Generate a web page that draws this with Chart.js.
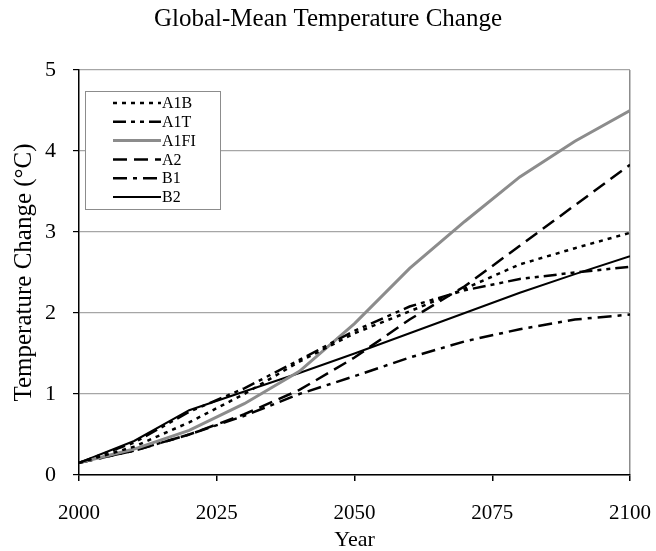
<!DOCTYPE html>
<html>
<head>
<meta charset="utf-8">
<script src="https://cdn.jsdelivr.net/npm/chart.js@4/dist/chart.umd.min.js"></script>
<style>
html,body{margin:0;padding:0;background:#fff;}
#wrap{width:656px;height:551px;}
</style>
</head>
<body>
<div id="wrap"><canvas id="tempChart" width="656" height="551"></canvas></div>
<script>
const years = [2000,2010,2020,2030,2040,2050,2060,2070,2080,2090,2100];
const xTicks = [2000,2025,2050,2075,2100];
const yTicks = [0,1,2,3,4,5];

const a1b  = [0.15,0.35,0.65,1.00,1.40,1.75,2.02,2.30,2.60,2.80,2.99];
const a1t  = [0.15,0.40,0.78,1.07,1.42,1.78,2.08,2.28,2.42,2.50,2.57];
const a1fi = [0.15,0.32,0.55,0.88,1.28,1.87,2.55,3.13,3.68,4.12,4.50];
const a2   = [0.15,0.30,0.50,0.75,1.05,1.45,1.92,2.33,2.83,3.33,3.83];
const b1   = [0.15,0.30,0.50,0.73,1.00,1.22,1.45,1.65,1.80,1.92,1.98];
const b2   = [0.15,0.42,0.80,1.03,1.26,1.50,1.75,2.00,2.25,2.48,2.70];

const seriesNames = ["A1B","A1T","A1FI","A2","B1","B2"];
const seriesData = [a1b,a1t,a1fi,a2,b1,b2];
const seriesColor = ["#000","#000","#8c8c8c","#000","#000","#000"];
const seriesWidth = [2.5,2.5,3,2.5,2.5,2];
const seriesDash = [[4,5],[13,5,4,5,4,5],[],[14,7],[14,6,4,6],[]];

const serif = "'Liberation Serif','Times New Roman',serif";

const datasets = seriesNames.map((name,i)=>({
label:name,
data:years.map((y,j)=>({x:y,y:seriesData[i][j]})),
borderColor:seriesColor[i],
borderWidth:seriesWidth[i],
borderDash:seriesDash[i],
pointRadius:0,
tension:0,
fill:false
}));

/* legend box drawn inside the plot area */
const boxLegend = {
id:"boxLegend",
afterDatasetsDraw(chart){
const ctx = chart.ctx;
const area = chart.chartArea;
const left = area.left+6, top = area.top+21;
ctx.save();
ctx.strokeStyle = "#8c8c8c";
ctx.lineWidth = 1;
ctx.fillStyle = "#fff";
ctx.fillRect(left,top,135,118);
ctx.strokeRect(left+0.5,top+0.5,135,118);
ctx.font = "16px "+serif;
ctx.textBaseline = "middle";
seriesNames.forEach((name,i)=>{
const y = top+12+i*18.8;
ctx.beginPath();
ctx.setLineDash(seriesDash[i]);
ctx.strokeStyle = seriesColor[i];
ctx.lineWidth = seriesWidth[i];
ctx.moveTo(left+28,y);
ctx.lineTo(left+76,y);
ctx.stroke();
ctx.setLineDash([]);
ctx.fillStyle = "#000";
ctx.fillText(name,left+77,y+1);
});
ctx.restore();
}
};

new Chart(document.getElementById("tempChart"),{
type:"line",
data:{datasets},
options:{
responsive:false,
animation:false,
layout:{padding:0},
plugins:{
legend:{display:false},
tooltip:{enabled:false},
title:{
display:true,
text:"Global-Mean Temperature Change",
color:"#000",
font:{family:serif,size:25,weight:"normal",lineHeight:1.2},
padding:{top:4,bottom:36}
}
},
scales:{
x:{
type:"linear",
min:2000,max:2100,
afterBuildTicks:s=>{s.ticks = xTicks.map(v=>({value:v}));},
afterFit:s=>{s.height = 76; s.paddingLeft = 0; s.paddingRight = 26;},
border:{color:"#000",width:1.5},
grid:{
drawOnChartArea:true,
color:c=>c.tick && c.tick.value===2100 ? "#8c8c8c" : "rgba(0,0,0,0)",
lineWidth:1.5,
tickColor:"#000",
tickLength:6
},
ticks:{color:"#000",font:{family:serif,size:21,lineHeight:1},padding:22,maxRotation:0,callback:v=>String(v)},
title:{display:true,text:"Year",color:"#000",font:{family:serif,size:22,lineHeight:1},padding:{top:0,bottom:0}}
},
y:{
min:0,max:5,
afterBuildTicks:s=>{s.ticks = yTicks.map(v=>({value:v}));},
afterFit:s=>{s.width = 79;},
border:{color:"#000",width:1.5},
grid:{color:"#a6a6a6",lineWidth:1.2,tickColor:"#000",tickLength:6},
ticks:{color:"#000",font:{family:serif,size:22},padding:17,callback:v=>String(v)},
title:{display:true,text:"Temperature Change (°C)",color:"#000",font:{family:serif,size:25,lineHeight:1.2},padding:{top:9,bottom:0}}
}
}
},
plugins:[boxLegend]
});
</script>
</body>
</html>
